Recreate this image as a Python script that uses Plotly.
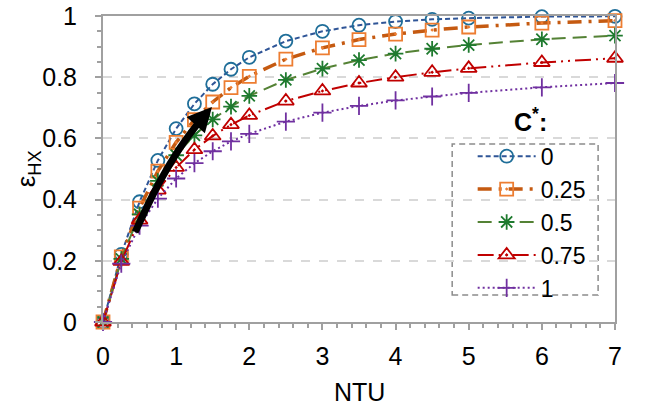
import plotly.graph_objects as go

ntu = [0, 0.25, 0.5, 0.75, 1, 1.25, 1.5, 1.75, 2, 2.5, 3, 3.5, 4, 4.5, 5, 6, 7]
eff_c0 = [0, 0.221, 0.393, 0.528, 0.632, 0.713, 0.777, 0.826, 0.865, 0.918, 0.950, 0.970, 0.982, 0.989, 0.993, 0.998, 0.999]
eff_c025 = [0, 0.213, 0.372, 0.493, 0.587, 0.661, 0.719, 0.766, 0.803, 0.859, 0.896, 0.923, 0.941, 0.954, 0.964, 0.977, 0.985]
eff_c05 = [0, 0.206, 0.352, 0.461, 0.545, 0.610, 0.662, 0.704, 0.739, 0.791, 0.828, 0.856, 0.877, 0.893, 0.905, 0.924, 0.936]
eff_c075 = [0, 0.198, 0.333, 0.431, 0.505, 0.563, 0.608, 0.645, 0.675, 0.722, 0.755, 0.781, 0.800, 0.816, 0.829, 0.848, 0.862]
eff_c1 = [0, 0.191, 0.315, 0.403, 0.469, 0.519, 0.558, 0.590, 0.615, 0.655, 0.684, 0.706, 0.724, 0.737, 0.749, 0.767, 0.781]
series_names = ["0", "0.25", "0.5", "0.75", "1"]
arrow_x = [0.44, 0.75, 1.05, 1.36]
arrow_y = [0.294, 0.447, 0.568, 0.668]

series = [eff_c0, eff_c025, eff_c05, eff_c075, eff_c1]
styles = [
    dict(lc="#2F5597", mc="#1F6E99", dash="5px,3px", lw=2, sym="circle-open", ms=13),
    dict(lc="#C55A11", mc="#ED7D31", dash="14px,7px,3px,7px", lw=3.5, sym="square-open-dot", ms=13),
    dict(lc="#548235", mc="#1E7A2E", dash="14px,7px", lw=2, sym="asterisk-open", ms=13),
    dict(lc="#C00000", mc="#C00000", dash="16px,5px,2px,5px,2px,5px", lw=2, sym="triangle-up-open-dot", ms=14),
    dict(lc="#7030A0", mc="#7030A0", dash="2px,3px", lw=2, sym="cross-thin-open", ms=13),
]

FONT = "Liberation Sans, Arial"
fig = go.Figure()
for name, ys, s in zip(series_names, series, styles):
    fig.add_trace(go.Scatter(
        x=ntu, y=ys, name=name, mode="lines+markers",
        line=dict(color=s["lc"], width=s["lw"], dash=s["dash"]),
        marker=dict(symbol=s["sym"], size=s["ms"], color=s["mc"],
                    line=dict(color=s["mc"], width=1.8)),
        cliponaxis=False,
    ))

fig.add_trace(go.Scatter(
    x=arrow_x, y=arrow_y, mode="lines", showlegend=False, hoverinfo="skip",
    line=dict(color="black", width=7, shape="spline"),
))
fig.add_annotation(
    x=1.49, y=0.703, ax=arrow_x[-1], ay=arrow_y[-1], xref="x", yref="y",
    axref="x", ayref="y", text="", showarrow=True, arrowhead=2,
    arrowsize=0.7, arrowwidth=7, arrowcolor="black",
)

fig.add_annotation(
    x=0.834, y=0.60, xref="paper", yref="paper", text="<b>C<sup>*</sup>:</b>",
    showarrow=False, font=dict(size=25, color="black", family=FONT),
    xanchor="center", yanchor="bottom",
)
fig.add_annotation(
    x=0.501, y=-0.229, xref="paper", yref="paper", text="NTU",
    showarrow=False, font=dict(size=25, color="black", family=FONT),
    xanchor="center", yanchor="middle",
)
fig.add_annotation(
    x=-0.148, y=0.50, xref="paper", yref="paper", text="ε<sub>HX</sub>",
    showarrow=False, font=dict(size=26, color="black", family=FONT),
    xanchor="center", yanchor="middle", textangle=-90,
)
fig.add_shape(
    type="rect", xref="paper", yref="paper", x0=0.682, x1=0.967, y0=0.088, y1=0.582,
    line=dict(color="#8c8c8c", width=1.5, dash="6px,4px"), fillcolor="white", layer="below",
)

fig.update_layout(
    width=648, height=408,
    margin=dict(l=103, r=33, t=16, b=86),
    plot_bgcolor="white", paper_bgcolor="white",
    font=dict(family=FONT, size=25, color="black"),
    showlegend=True,
    legend=dict(
        x=0.722, y=0.612, xanchor="left", yanchor="top",
        bgcolor="rgba(0,0,0,0)", borderwidth=0,
        font=dict(size=23), tracegroupgap=0, itemwidth=58,
    ),
    xaxis=dict(
        range=[0, 7], dtick=1, showgrid=False, zeroline=False, automargin=False,
        showline=True, linecolor="#a0a0a0", linewidth=2, mirror=True,
        ticks="outside", ticklen=6, tickwidth=2, tickcolor="#a0a0a0",
        minor=dict(dtick=0.2, ticks="outside", ticklen=4, tickwidth=1.5, tickcolor="#a0a0a0", showgrid=False),
        ticklabelstandoff=5, ticklabeloverflow="allow",
        tickfont=dict(size=25),
    ),
    yaxis=dict(
        range=[0, 1], dtick=0.2, showgrid=True, gridcolor="#d9d9d9", griddash="dash", gridwidth=1.5,
        zeroline=False, showline=True, linecolor="#a0a0a0", linewidth=2, mirror=True, automargin=False,
        ticks="outside", ticklen=6, tickwidth=2, tickcolor="#a0a0a0",
        minor=dict(dtick=0.05, ticks="outside", ticklen=4, tickwidth=1.5, tickcolor="#a0a0a0", showgrid=False),
        tickformat="~g", ticklabelstandoff=13, ticklabeloverflow="allow",
        tickfont=dict(size=25),
    ),
)

fig.write_html("out.html", config={"displayModeBar": False},
               post_script="document.body.style.margin='0';")
